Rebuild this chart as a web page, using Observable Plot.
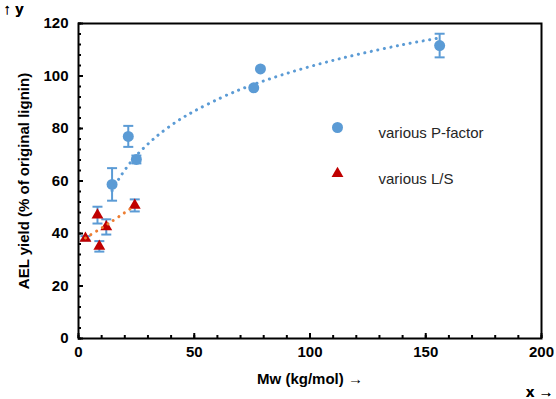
<!DOCTYPE html>
<html><head><meta charset="utf-8">
<script src="https://cdn.jsdelivr.net/npm/d3@7"></script>
<script src="https://cdn.jsdelivr.net/npm/@observablehq/plot@0.6"></script>
<style>body{margin:0;background:#fff;} svg{font-family:Arial,"Liberation Sans",sans-serif;}</style>
</head><body><div id="chart"></div>
<script>
// Blue series: various P-factor
const pMw = [14.5, 21.5, 25, 75.7, 78.6, 156];
const pYield = [58.7, 77.0, 68.2, 95.5, 102.7, 111.6];
const pErr = [6.2, 4.0, 1.5, 0, 0, 4.5];
// Red series: various L/S
const lMw = [3, 8.2, 9, 12, 24.3];
const lYield = [38.2, 47.0, 35.1, 42.5, 50.7];
const lErr = [0.8, 3.2, 2.0, 2.9, 2.3];
// Trend lines
const pTrendX = [14.5, 17, 21, 25, 30, 35, 43, 50, 61, 70, 77, 90, 105, 120, 140, 156];
const pTrendY = [56.3, 60.2, 65.4, 69.7, 74.1, 77.9, 83.0, 86.6, 91.5, 94.9, 97.2, 101.0, 104.8, 108.1, 111.9, 114.5];
const lTrendX = [3, 13, 24.3];
const lTrendY = [38.3, 43.8, 50.6];
// Axis ticks
const xMajor = [0, 50, 100, 150, 200];
const xMinor = d3.range(0, 201, 10);
const yMajor = [0, 20, 40, 60, 80, 100, 120];
const yMinor = d3.range(0, 121, 4);
const legendLabels = ["various P-factor", "various L/S"];

const blue = "#5b9bd5", red = "#c00000", orange = "#ed7d31";
const P = pMw.map((x, i) => ({x, y: pYield[i], e: pErr[i]}));
const L = lMw.map((x, i) => ({x, y: lYield[i], e: lErr[i]}));
const PT = pTrendX.map((x, i) => ({x, y: pTrendY[i]}));
const LT = lTrendX.map((x, i) => ({x, y: lTrendY[i]}));
const cap = {draw(ctx) { ctx.moveTo(-5, 0); ctx.lineTo(5, 0); }};
const errs = (D) => [
  Plot.ruleX(D.filter(d => d.e > 0), {x: "x", y1: d => d.y - d.e, y2: d => d.y + d.e, stroke: blue, strokeWidth: 2}),
  Plot.dot(D.filter(d => d.e > 0), {x: "x", y: d => d.y - d.e, symbol: cap, r: 5, stroke: blue, strokeWidth: 2}),
  Plot.dot(D.filter(d => d.e > 0), {x: "x", y: d => d.y + d.e, symbol: cap, r: 5, stroke: blue, strokeWidth: 2})
];

const chart = Plot.plot({
  width: 556, height: 399,
  marginLeft: 78, marginRight: 15, marginTop: 23, marginBottom: 61,
  style: {fontFamily: "Arial, 'Liberation Sans', sans-serif", fontSize: "13px", color: "#404040"},
  x: {domain: [0, 200]},
  y: {domain: [0, 120]},
  marks: [
    Plot.axisX({ticks: xMinor, tickSize: 3, dy: -3, text: null, stroke: "black", strokeWidth: 2}),
    Plot.axisX({ticks: xMajor, tickSize: 5, dy: -5, text: null, stroke: "black", strokeWidth: 2}),
    Plot.axisX({ticks: xMajor, tickSize: 0, tickPadding: 8, fontSize: 13, fill: "#404040", label: "Mw (kg/mol)", labelAnchor: "center", labelOffset: 45}),
    Plot.axisY({ticks: yMinor, tickSize: 3, dx: 3, text: null, stroke: "black", strokeWidth: 2}),
    Plot.axisY({ticks: yMajor, tickSize: 5, dx: 5, text: null, stroke: "black", strokeWidth: 2}),
    Plot.axisY({ticks: yMajor, tickSize: 0, tickPadding: 10, fontSize: 13, fill: "#404040", label: "AEL yield (% of original lignin)", labelAnchor: "center", labelArrow: "none", labelOffset: 60}),
    ...errs(P),
    Plot.dot(P, {x: "x", y: "y", r: 5.5, fill: blue}),
    ...errs(L),
    Plot.dot(L, {x: "x", y: "y", r: 4.4, symbol: "triangle", fill: red}),
    Plot.line(PT, {x: "x", y: "y", curve: "catmull-rom", stroke: blue, strokeWidth: 3, strokeDasharray: "0.1,6.5", strokeLinecap: "round"}),
    Plot.line(LT, {x: "x", y: "y", curve: "catmull-rom", stroke: orange, strokeWidth: 3, strokeDasharray: "0.1,6.5", strokeLinecap: "round"}),
    Plot.frame({stroke: "black", strokeWidth: 2}),
    Plot.dot([legendLabels[0]], {frameAnchor: "top-left", dx: 259, dy: 104, r: 5.5, fill: blue}),
    Plot.dot([legendLabels[1]], {frameAnchor: "top-left", dx: 259, dy: 150, r: 4.4, symbol: "triangle", fill: red}),
    Plot.text([legendLabels[0]], {text: d => d, frameAnchor: "top-left", dx: 300, dy: 104, textAnchor: "start", fontSize: 15, fill: "#262626"}),
    Plot.text([legendLabels[1]], {text: d => d, frameAnchor: "top-left", dx: 300, dy: 150, textAnchor: "start", fontSize: 15, fill: "#262626"})
  ]
});
document.getElementById("chart").append(chart);
// bold axis labels
chart.querySelectorAll("[aria-label$='label'] text, g[aria-label='x-axis label'] text, g[aria-label='y-axis label'] text").forEach(t => {
  t.setAttribute("font-weight", "bold"); t.setAttribute("font-size", "15"); t.setAttribute("fill", "#000");
});
</script></body></html>
